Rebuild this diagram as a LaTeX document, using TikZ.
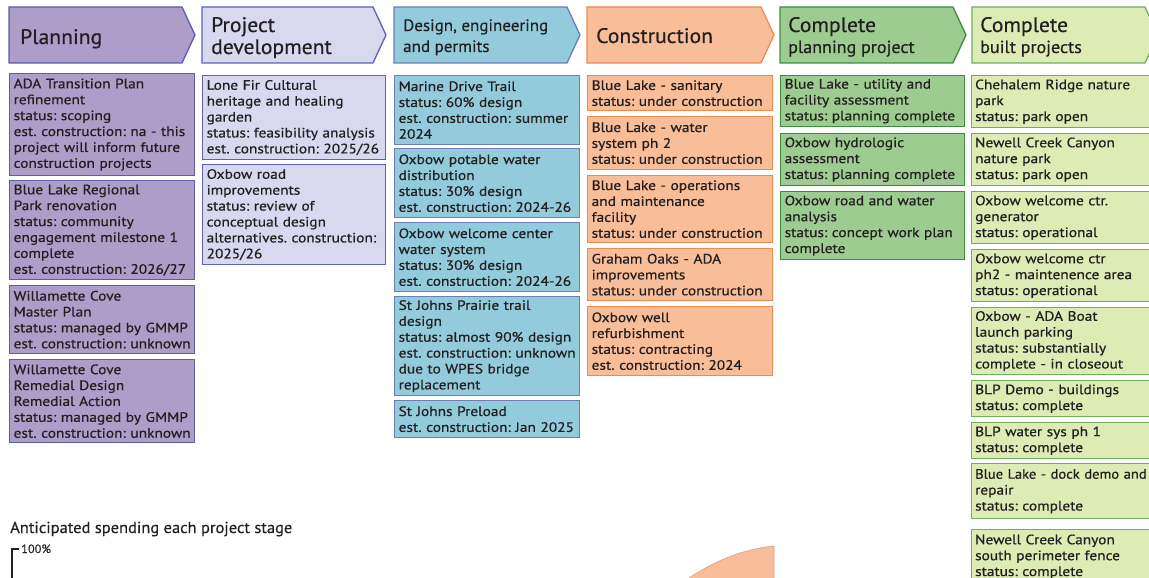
\documentclass[tikz,border=0pt]{standalone}
\usepackage{fontspec}
\setmainfont{PT Sans}
\newfontfamily\boxface{PT Sans}[FakeStretch=1.13, FakeBold=0.6, WordSpace=0.66]
\newfontfamily\boxtight{PT Sans}[FakeStretch=1.07, FakeBold=0.6, WordSpace=0.6]
\newfontfamily\headface{PT Sans}[FakeStretch=1.03, FakeBold=0.4]
\definecolor{ink}{HTML}{231F20}
\definecolor{planF}{HTML}{AE9DC9}
\definecolor{planD}{HTML}{5B5EA8}
\definecolor{devF}{HTML}{D8D8EE}
\definecolor{devD}{HTML}{5D62B5}
\definecolor{desF}{HTML}{93CBDC}
\definecolor{desD}{HTML}{6B7FB4}
\definecolor{conF}{HTML}{F8BD99}
\definecolor{conD}{HTML}{EF8A4E}
\definecolor{cpF}{HTML}{9DCC90}
\definecolor{cpD}{HTML}{3F8C40}
\definecolor{cbF}{HTML}{DDEBB4}
\definecolor{cbD}{HTML}{72AD5D}
\definecolor{curveEdge}{HTML}{D9A283}
\newcommand\boxfont{\boxface\fontsize{13.6}{15.9}\selectfont}
\frenchspacing
\begin{document}
\frenchspacing
\begin{tikzpicture}[x=1pt,y=-1pt,
  hdr/.style={line width=1.3pt, line join=miter},
  htxt/.style={anchor=base west, inner sep=0pt, text=ink, font=\headface\fontsize{21}{22}\selectfont},
  hsmall/.style={htxt, font=\headface\fontsize{16.5}{20}\selectfont},
  hsub/.style={htxt, font=\headface\fontsize{17.5}{20}\selectfont},
  pbox/.style={draw, line width=1.3pt, anchor=north west, inner xsep=4pt,
    inner ysep=2pt, align=left, text=ink, font=\boxfont},
  col1/.style={pbox, draw=planD, fill=planF, text width=177pt},
  col2/.style={pbox, draw=devD, fill=devF, text width=175pt},
  col3/.style={pbox, draw=desD, fill=desF, text width=177pt},
  col4/.style={pbox, draw=conD, fill=conF, text width=177pt},
  col5/.style={pbox, draw=cpD, fill=cpF, text width=176pt},
  col6/.style={pbox, draw=cbD, fill=cbF, inner xsep=3.5pt, text width=186pt},
]
\useasboundingbox (0,0) rectangle (1149,578);
\clip (0,0) rectangle (1149,578);

% stage headers (chevrons)
\filldraw[hdr, fill=planF, draw=planD] (9,7) -- (182,7) -- (195,35) -- (182,63) -- (9,63) -- cycle;
\filldraw[hdr, fill=devF, draw=devD] (202,7) -- (373,7) -- (386,35) -- (373,63) -- (202,63) -- cycle;
\filldraw[hdr, fill=desF, draw=desD] (394,7) -- (567,7) -- (580,35) -- (567,63) -- (394,63) -- cycle;
\filldraw[hdr, fill=conF, draw=conD] (587,7) -- (761,7) -- (774,35) -- (761,63) -- (587,63) -- cycle;
\filldraw[hdr, fill=cpF, draw=cpD] (780,7) -- (953,7) -- (966,35) -- (953,63) -- (780,63) -- cycle;
\filldraw[hdr, fill=cbF, draw=cbD] (972,7) -- (1145,7) -- (1158,35) -- (1145,63) -- (972,63) -- cycle;

\node[htxt] (hPlan) at (20,44) {Planning};
\node[htxt] (hDevA) at (211,32) {Project};
\node[htxt] (hDevB) at (211,54) {development};
\node[hsmall] (hDesA) at (403,31) {Design, engineering};
\node[hsmall] (hDesB) at (403,52) {and permits};
\node[htxt] (hCon) at (596,43) {Construction};
\node[htxt] (hCpA) at (788,32) {Complete};
\node[hsub] (hCpB) at (788,53) {planning project};
\node[htxt] (hCbA) at (980,32) {Complete};
\node[hsub] (hCbB) at (980,53) {built projects};

% Planning
\node[col1, minimum height=102pt] (c1a) at (9,73) {ADA Transition Plan\\refinement\\status: scoping\\est. construction: na - this\\project will inform future\\construction projects};
\node[col1, minimum height=99pt] (c1b) at (9,180) {Blue Lake Regional\\Park renovation\\status: community\\engagement milestone 1\\complete\\est. construction: 2026/27};
\node[col1, minimum height=68pt] (c1c) at (9,285) {Willamette Cove\\Master Plan\\status: managed by GMMP\\est. construction: unknown};
\node[col1, minimum height=83pt] (c1d) at (9,359) {Willamette Cove\\Remedial Design\\Remedial Action\\status: managed by GMMP\\est. construction: unknown};

% Project development
\node[col2, minimum height=84pt] (c2a) at (202,75) {Lone Fir Cultural\\heritage and healing\\garden\\status: feasibility analysis\\est. construction: 2025/26};
\node[col2, minimum height=100pt] (c2b) at (202,164) {Oxbow road\\improvements\\status: review of\\conceptual design\\alternatives. construction:\\2025/26};

% Design, engineering and permits
\node[col3, minimum height=69pt] (c3a) at (394,75) {Marine Drive Trail\\status: 60\% design\\est. construction: summer\\2024};
\node[col3, minimum height=69pt] (c3b) at (394,148) {Oxbow potable water\\distribution\\status: 30\% design\\est. construction: 2024-26};
\node[col3, minimum height=69pt] (c3c) at (394,222) {Oxbow welcome center\\water system\\status: 30\% design\\est. construction: 2024-26};
\node[col3, minimum height=99pt] (c3d) at (394,296) {St Johns Prairie trail\\design\\status: almost 90\% design\\est. construction: unknown\\due to WPES bridge\\replacement};
\node[col3, minimum height=37pt] (c3e) at (394,400) {St Johns Preload\\est. construction: Jan 2025};

% Construction
\node[col4, minimum height=35pt] (c4a) at (587,75) {Blue Lake - sanitary\\status: under construction};
\node[col4, minimum height=53pt] (c4b) at (587,116) {Blue Lake - water\\system ph 2\\status: under construction};
\node[col4, minimum height=67pt] (c4c) at (587,175) {Blue Lake - operations\\and maintenance\\facility\\status: under construction};
\node[col4, minimum height=52pt] (c4d) at (587,248) {Graham Oaks - ADA\\improvements\\status: under construction};
\node[col4, minimum height=69pt] (c4e) at (587,306) {Oxbow well\\refurbishment\\status: contracting\\est. construction: 2024};

% Complete planning project
\node[col5, minimum height=51pt] (c5a) at (780,75) {Blue Lake - utility and\\facility assessment\\status: planning complete};
\node[col5, minimum height=52pt] (c5b) at (780,133) {Oxbow hydrologic\\assessment\\status: planning complete};
\node[col5, minimum height=68pt] (c5c) at (780,191) {Oxbow road and water\\analysis\\status: concept work plan\\complete};

% Complete built projects
\node[col6, minimum height=52pt] (c6a) at (971,75) {Chehalem Ridge nature\\park\\status: park open};
\node[col6, minimum height=52pt] (c6b) at (971,133) {Newell Creek Canyon\\nature park\\status: park open};
\node[col6, minimum height=52pt] (c6c) at (971,191) {Oxbow welcome ctr.\\generator\\status: operational};
\node[col6, minimum height=52pt] (c6d) at (971,249) {Oxbow welcome ctr\\ph2 - maintenence area\\status: operational};
\node[col6, minimum height=67pt] (c6e) at (971,307) {Oxbow - ADA Boat\\launch parking\\status: substantially\\complete - in closeout};
\node[col6, minimum height=36pt] (c6f) at (971,380) {BLP Demo - buildings\\status: complete};
\node[col6, minimum height=36pt] (c6g) at (971,422) {BLP water sys ph 1\\status: complete};
\node[col6, minimum height=55pt] (c6h) at (971,463) {{\boxtight Blue Lake - dock demo and}\\repair\\status: complete};
\node[col6, minimum height=54pt] (c6i) at (971,529) {Newell Creek Canyon\\south perimeter fence\\status: complete};

% spending chart
\node[anchor=base west, inner sep=0pt, text=ink, font=\headface\fontsize{16}{18}\selectfont] (chartTitle) at (10,533) {Anticipated spending each project stage};
\coordinate (axTick) at (19,549);
\coordinate (axTop) at (12,549);
\coordinate (axBot) at (12,580);
\draw[ink, line width=1.3pt] (axTick) -- (axTop) -- (axBot);
\node[anchor=base west, inner sep=0pt, text=ink, font=\headface\fontsize{12}{13}\selectfont] (pct) at (21,553) {100\%};
\filldraw[fill=conF, draw=curveEdge, line width=0.6pt] (686,580) .. controls (712,562) and (742,549) .. (774,546) -- (774,580) -- cycle;
\end{tikzpicture}
\end{document}
